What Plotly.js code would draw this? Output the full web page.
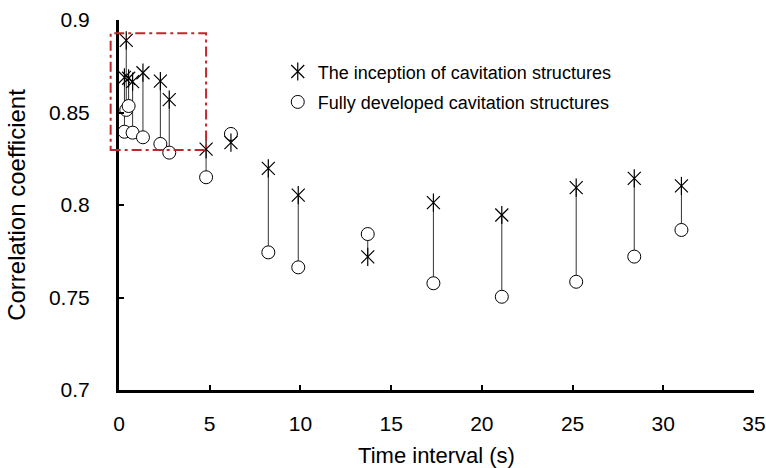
<!DOCTYPE html>
<html>
<head>
<meta charset="utf-8">
<script src="https://cdn.plot.ly/plotly-3.0.1.min.js"></script>
<style>html,body{margin:0;padding:0;background:#fff;}#chart{width:766px;height:468px;}</style>
</head>
<body>
<div id="chart"></div>
<script>
// Time interval (s)
var timeInterval = [0.3, 0.4, 0.53, 0.75, 1.32, 2.28, 2.77, 4.8, 6.17, 8.23, 9.88, 13.71, 17.33, 21.1, 25.2, 28.4, 31.0];
// Correlation coefficient: inception of cavitation structures
var inception = [0.869, 0.889, 0.8685, 0.8667, 0.8715, 0.867, 0.857, 0.8302, 0.8337, 0.8198, 0.8053, 0.772, 0.8013, 0.7946, 0.8094, 0.8144, 0.8103];
// Correlation coefficient: fully developed cavitation structures
var developed = [0.8396, 0.8514, 0.8535, 0.8391, 0.8366, 0.833, 0.8283, 0.815, 0.8384, 0.7744, 0.7663, 0.7843, 0.7577, 0.7504, 0.7585, 0.7721, 0.7865];
var seriesNames = ['The inception of cavitation structures', 'Fully developed cavitation structures'];
var xTicks = [0, 5, 10, 15, 20, 25, 30, 35];
var yTicks = [0.7, 0.75, 0.8, 0.85, 0.9];
var yTickText = ['0.7', '0.75', '0.8', '0.85', '0.9'];
// highlighted zoom region (data units)
var boxX = [-0.46, 4.8];
var boxY = [0.8297, 0.8928];

var xRange = [0, 35], yRange = [0.7, 0.9];

var lx = [], ly = [];
for (var i = 0; i < timeInterval.length; i++) {
  lx.push(timeInterval[i], timeInterval[i], null);
  ly.push(inception[i], developed[i], null);
}

var font = 'Liberation Sans, Arial, Helvetica, sans-serif';

var traces = [
  {x: lx, y: ly, mode: 'lines', line: {color: '#333', width: 1}, showlegend: false, hoverinfo: 'skip'},
  {x: timeInterval, y: developed, mode: 'markers', name: seriesNames[1], legendrank: 2, legendgroup: 'b',
   marker: {symbol: 'circle', size: 13, color: '#fff', line: {color: '#000', width: 1}}},
  {x: timeInterval, y: inception, mode: 'markers', name: seriesNames[0], legendrank: 1, legendgroup: 'a',
   marker: {symbol: 'x-thin-open', size: 13, color: '#000', line: {color: '#000', width: 1.2}}},
  {x: timeInterval, y: inception, mode: 'markers', name: ' ', legend: 'legend2',
   marker: {symbol: 'line-ns-open', size: 13, color: '#000', line: {color: '#000', width: 1.2}}}
];

function px(v){ return (v - xRange[0]) / (xRange[1] - xRange[0]); }
function py(v){ return (v - yRange[0]) / (yRange[1] - yRange[0]); }

var legendCommon = {x: 0.25, y: 0.91, xanchor: 'left', yanchor: 'top', bgcolor: 'rgba(0,0,0,0)',
  font: {family: font, size: 18, color: '#000'}, tracegroupgap: 4, itemwidth: 30};

var layout = {
  width: 766, height: 468,
  margin: {l: 119, r: 12, t: 20, b: 78},
  paper_bgcolor: '#fff', plot_bgcolor: '#fff',
  font: {family: font, color: '#000'},
  showlegend: true,
  legend: legendCommon,
  legend2: Object.assign({}, legendCommon),
  xaxis: {
    range: xRange, tickvals: xTicks, ticktext: xTicks.map(String),
    showline: true, linewidth: 3, linecolor: '#000', mirror: false,
    ticks: 'inside', ticklen: 5, tickwidth: 2, tickcolor: '#000',
    showgrid: false, zeroline: false, ticklabelstandoff: 13,
    tickfont: {family: font, size: 21, color: '#000'},
    title: {text: 'Time interval (s)', font: {family: font, size: 22, color: '#000'}}
  },
  yaxis: {
    range: yRange, tickvals: yTicks, ticktext: yTickText,
    showline: true, linewidth: 3, linecolor: '#000', mirror: false,
    ticks: 'inside', ticklen: 5, tickwidth: 2, tickcolor: '#000',
    showgrid: false, zeroline: false, ticklabelstandoff: 22,
    tickfont: {family: font, size: 21, color: '#000'},
    title: {text: 'Correlation coefficient', standoff: 17, font: {family: font, size: 24, color: '#000'}}
  },
  shapes: [{
    type: 'rect', xref: 'paper', yref: 'paper',
    x0: px(boxX[0]), x1: px(boxX[1]), y0: py(boxY[0]), y1: py(boxY[1]),
    line: {color: '#c0272d', width: 2, dash: '10px,4px,3px,4px'}, fillcolor: 'rgba(0,0,0,0)', layer: 'above'
  }]
};

Plotly.newPlot('chart', traces, layout, {displayModeBar: false, staticPlot: true});
</script>
</body>
</html>
